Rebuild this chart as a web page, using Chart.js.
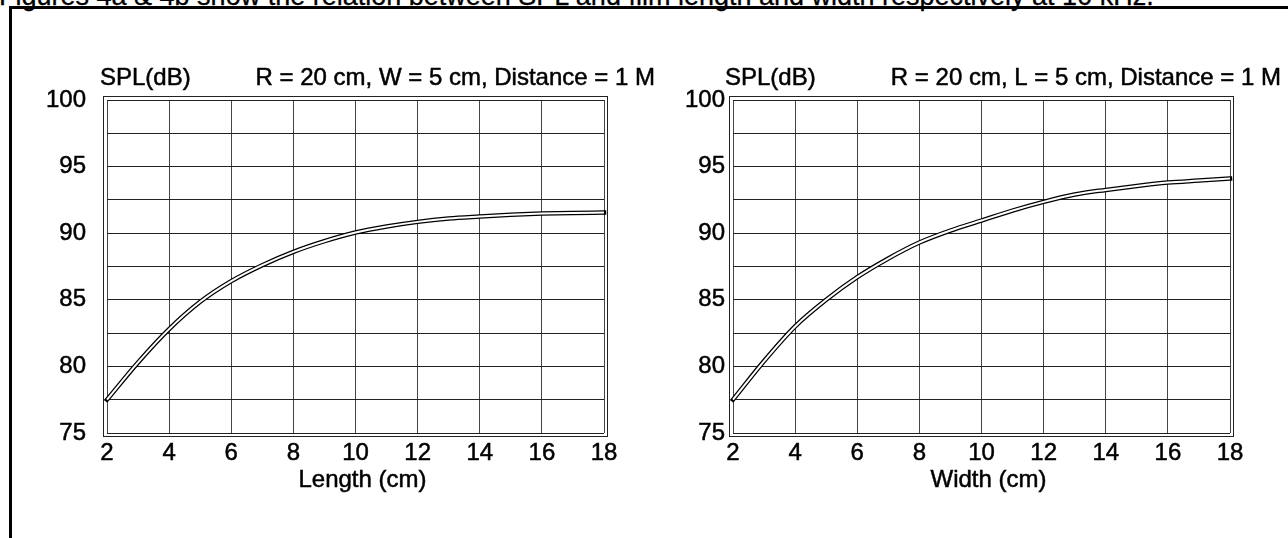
<!DOCTYPE html>
<html>
<head>
<meta charset="utf-8">
<script src="https://cdn.jsdelivr.net/npm/chart.js@4.4.1/dist/chart.umd.min.js"></script>
<style>
  html, body { margin: 0; padding: 0; background: #fff; width: 1288px; height: 538px; overflow: hidden; }
  #caption {
    position: absolute; left: -1px; top: -17px;
    font: 27px/27px "Liberation Sans", Arial, sans-serif; color: #000; white-space: nowrap;
    -webkit-text-stroke: 0.3px #000;
  }
  #frame {
    position: absolute; left: 9px; top: 6px; width: 1300px; height: 600px;
    border-top: 3px solid #000; border-left: 3px solid #000;
  }
  canvas { position: absolute; left: 0; top: 0; }
</style>
</head>
<body>
<div id="caption">Figures 4a &amp; 4b show the relation between SPL and film length and width respectively at 10 kHz.</div>
<div id="frame"></div>
<canvas id="lengthChart" width="1288" height="538"></canvas>
<canvas id="widthChart" width="1288" height="538"></canvas>
<script>
// Film size (cm) sampled along each curve
const lengthCm = [2, 3, 4, 5, 6, 7, 8, 9, 10, 11, 12, 13, 14, 15, 16, 17, 18];
const splVsLength = [77.5, 80.3, 82.8, 84.85, 86.4, 87.6, 88.6, 89.4, 90.05, 90.5, 90.85, 91.1, 91.25, 91.38, 91.47, 91.52, 91.55];

const widthCm = [2, 3, 4, 5, 6, 7, 8, 9, 10, 11, 12, 13, 14, 15, 16, 17, 18];
const splVsWidth = [77.5, 80.4, 83.0, 85.0, 86.7, 88.1, 89.3, 90.2, 90.95, 91.7, 92.35, 92.9, 93.25, 93.55, 93.8, 93.95, 94.1];

// Axis ticks and labels
const xTicks = [2, 4, 6, 8, 10, 12, 14, 16, 18];
const yLabelled = [75, 80, 85, 90, 95, 100];
const yUnit = 'SPL(dB)';
const lengthNote = 'R = 20 cm, W = 5 cm, Distance = 1 M';
const widthNote = 'R = 20 cm, L = 5 cm, Distance = 1 M';
const lengthTitle = 'Length (cm)';
const widthTitle = 'Width (cm)';

const FONT = '"Liberation Sans", Arial, sans-serif';

function heavyText(ctx, text, x, y) {
  ctx.fillText(text, x, y);
  ctx.strokeText(text, x, y);
}

// Unit label, parameter note, x-axis title and the double outline around the plot box
const panelText = {
  id: 'panelText',
  afterDraw(chart, args, opts) {
    const { ctx, chartArea: a } = chart;
    ctx.save();
    ctx.fillStyle = '#000';
    ctx.strokeStyle = '#000';
    ctx.lineWidth = 0.5;
    ctx.font = '24px ' + FONT;
    ctx.textBaseline = 'alphabetic';
    ctx.textAlign = 'left';
    heavyText(ctx, opts.unit, a.left - opts.unitShift, a.top - 15);
    ctx.textAlign = 'right';
    heavyText(ctx, opts.note, a.right + 51, a.top - 15);
    ctx.textAlign = 'center';
    heavyText(ctx, opts.title, (a.left + a.right) / 2 + 7, a.bottom + 54);

    ctx.strokeStyle = '#222';
    ctx.lineWidth = 1;
    const l = Math.round(a.left), t = Math.round(a.top), r = Math.round(a.right), b = Math.round(a.bottom);
    ctx.strokeRect(l - 3.5, t - 3.5, r - l + 7, b - t + 7);
    ctx.restore();
  }
};

function makeChart(id, xs, ys, title, note, pad, yAxisWidth, yPad, unitShift) {
  const pts = xs.map((x, i) => ({ x, y: ys[i] }));
  return new Chart(document.getElementById(id), {
    type: 'line',
    data: {
      datasets: [
        { data: pts, borderColor: '#fff', borderWidth: 2, borderCapStyle: 'butt',
          pointRadius: 0, cubicInterpolationMode: 'monotone', clip: false, order: 0 },
        { data: pts, borderColor: '#000', borderWidth: 4.5, borderCapStyle: 'square',
          pointRadius: 0, cubicInterpolationMode: 'monotone', clip: false, order: 1 }
      ]
    },
    options: {
      responsive: false,
      animation: false,
      devicePixelRatio: 1,
      events: [],
      layout: { padding: { left: pad.left, right: pad.right, top: 100, bottom: 0 } },
      plugins: {
        legend: { display: false },
        tooltip: { enabled: false },
        panelText: { unit: yUnit, note, title, unitShift }
      },
      scales: {
        x: {
          type: 'linear', min: 2, max: 18,
          afterBuildTicks: s => { s.ticks = xTicks.map(v => ({ value: v })); },
          afterFit: s => { s.height = 105; },
          grid: { color: '#444', lineWidth: 1, drawTicks: false },
          border: { display: false },
          ticks: { autoSkip: false, maxRotation: 0, padding: 6, color: '#000',
                   textStrokeColor: '#000', textStrokeWidth: 0.5,
                   font: { family: FONT, size: 24 } }
        },
        y: {
          type: 'linear', min: 75, max: 100,
          ticks: {
            stepSize: 2.5, padding: yPad, color: '#000',
            textStrokeColor: '#000', textStrokeWidth: 0.5,
            font: { family: FONT, size: 24 },
            callback: v => yLabelled.includes(v) ? String(v) : ''
          },
          afterFit: s => { s.width = yAxisWidth; },
          grid: { color: '#222', lineWidth: 1, drawTicks: false },
          border: { display: false }
        }
      }
    },
    plugins: [panelText]
  });
}

makeChart('lengthChart', lengthCm, splVsLength, lengthTitle, lengthNote,
          { left: 0, right: 684 }, 107, 21, 7);
makeChart('widthChart', widthCm, splVsWidth, widthTitle, widthNote,
          { left: 640, right: 58 }, 93, 8, 8);
</script>
</body>
</html>
